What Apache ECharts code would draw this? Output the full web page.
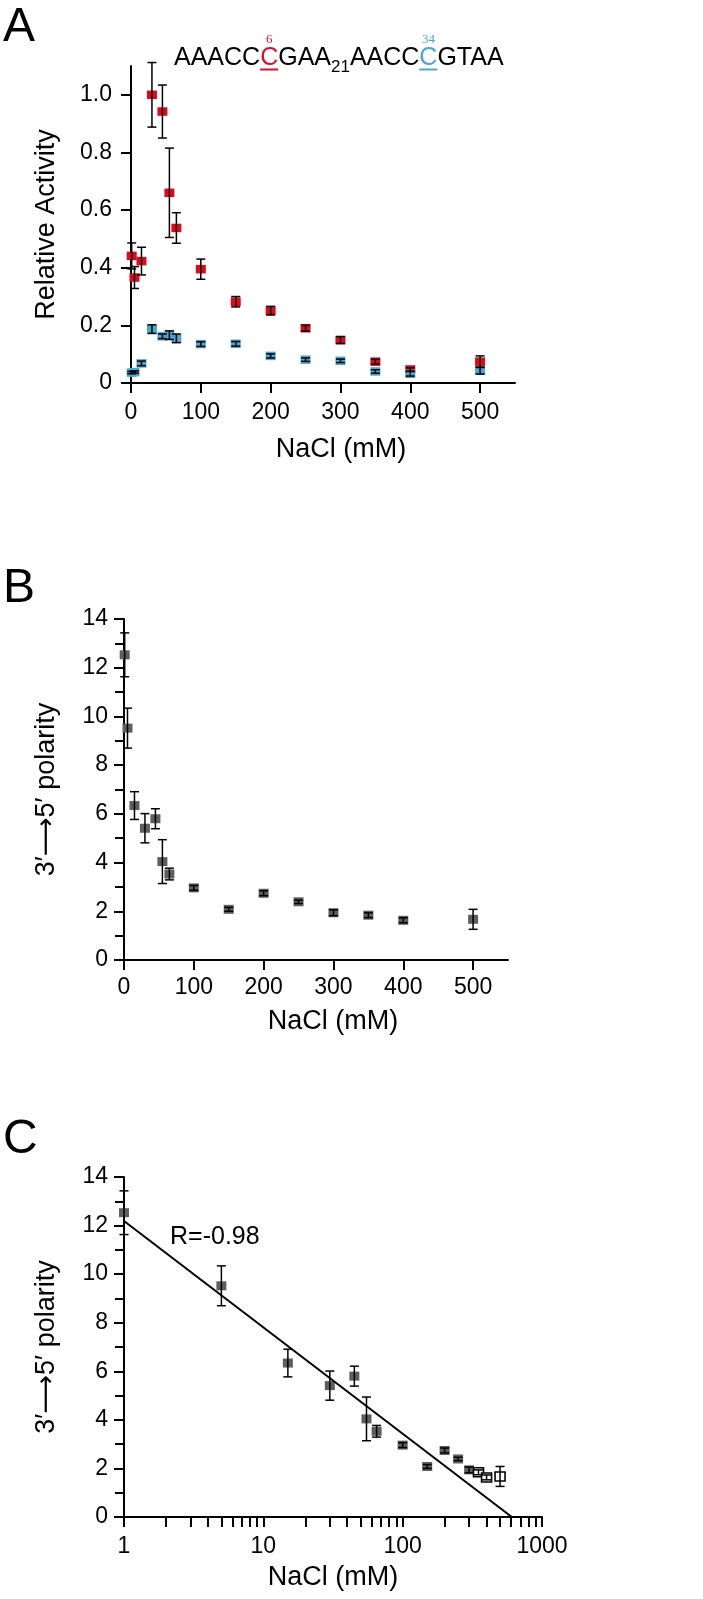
<!DOCTYPE html>
<html><head><meta charset="utf-8">
<script src="https://cdn.jsdelivr.net/npm/echarts@6/dist/echarts.min.js"></script>
<style>html,body{margin:0;padding:0;background:#fff}#c{width:703px;height:1599px}</style>
</head><body><div id="c"></div>
<script>
// ---------- data ----------
const nacl = [1, 5, 15, 30, 45, 55, 65, 100, 150, 200, 250, 300, 350, 400, 500];
const redActivity = [0.441, 0.366, 0.423, 1.0, 0.942, 0.66, 0.538, 0.395, 0.282, 0.251, 0.19, 0.149, 0.074, 0.047, 0.074];
const redErr      = [0.045, 0.038, 0.048, 0.112, 0.092, 0.155, 0.053, 0.035, 0.018, 0.015, 0.01, 0.012, 0.008, 0.006, 0.02];
const blueActivity = [0.036, 0.038, 0.068, 0.187, 0.162, 0.166, 0.155, 0.135, 0.136, 0.094, 0.081, 0.077, 0.04, 0.032, 0.043];
const blueErr      = [0.004, 0.004, 0.008, 0.015, 0.008, 0.015, 0.015, 0.008, 0.008, 0.007, 0.006, 0.006, 0.006, 0.008, 0.012];
const polarity    = [12.53, 9.52, 6.34, 5.41, 5.8, 4.04, 3.53, 2.96, 2.08, 2.74, 2.39, 1.94, 1.84, 1.63, 1.67];
const polarityErr = [0.9, 0.82, 0.57, 0.6, 0.41, 0.9, 0.24, 0.1, 0.08, 0.1, 0.07, 0.12, 0.1, 0.1, 0.41];
const openPointsC = [350, 400, 500];
const fitX = [1, 607];
const fitY = [12.19, 0];
const fitLabel = 'R=-0.98';

const xTicksLinear = [0, 100, 200, 300, 400, 500];
const yTicksA = [0, 0.2, 0.4, 0.6, 0.8, 1.0];
const xLabelsLog = [1, 10, 100, 1000];
const xTicksLog = [1, 2, 3, 4, 5, 6, 7, 8, 9, 10, 20, 30, 40, 50, 60, 70, 80, 90, 100, 200, 300, 400, 500, 600, 700, 800, 900, 1000];

const xName = 'NaCl (mM)';
const yNameA = 'Relative Activity';
const yNameBC = '3\u2032\u27F65\u2032 polarity';
const panelLetters = ['A', 'B', 'C'];
const seqParts = [
  { text: 'AAACC' },
  { text: 'C', mark: '6', tone: 'red' },
  { text: 'GAA' },
  { text: '21', sub: true },
  { text: 'AACC' },
  { text: 'C', mark: '34', tone: 'blue' },
  { text: 'GTAA' }
];

// ---------- style ----------
const FONT = '"Liberation Sans", Arial, Helvetica, "DejaVu Sans", sans-serif';
const SERIF = '"Liberation Serif", "Times New Roman", serif';
const RED = '#dc0a1e', BLUE = '#4ba6d0', GRAY = '#5e5e5e';
const SEQ_RED = '#d8102c', SEQ_BLUE = '#48a7d6';
const BLACK = '#000';

function pairs(xs, ys) { return xs.map((x, i) => [x, ys[i]]); }
function triples(xs, ys, es) { return xs.map((x, i) => [x, ys[i], es[i]]); }

function errRender(params, api) {
  const x = api.value(0), y = api.value(1), e = api.value(2);
  const p1 = api.coord([x, y + e]), p2 = api.coord([x, y - e]);
  const w = 4.5;
  const style = { stroke: BLACK, lineWidth: 1.5 };
  return { type: 'group', children: [
    { type: 'line', shape: { x1: p1[0], y1: p1[1], x2: p2[0], y2: p2[1] }, style },
    { type: 'line', shape: { x1: p1[0] - w, y1: p1[1], x2: p1[0] + w, y2: p1[1] }, style },
    { type: 'line', shape: { x1: p2[0] - w, y1: p2[1], x2: p2[0] + w, y2: p2[1] }, style }
  ]};
}

const axisLine = { show: true, onZero: false, lineStyle: { color: BLACK, width: 2 } };
const tickStyle = { color: BLACK, width: 2 };
const labelBase = { color: BLACK, fontSize: 23, fontFamily: FONT };
const nameStyle = { color: BLACK, fontSize: 27, fontFamily: FONT };

function errSeries(xi, xs, ys, es, z) {
  return { type: 'custom', xAxisIndex: xi, yAxisIndex: xi, renderItem: errRender,
    data: triples(xs, ys, es), encode: { x: 0, y: 1 }, z: z, silent: true, clip: false };
}

// ---------- sequence title layout ----------
const cv = document.createElement('canvas').getContext('2d');
function tw(t, size, fam) { cv.font = size + 'px ' + fam; return cv.measureText(t).width; }
const seqGraphic = [];
(function () {
  let x = 174;
  const MAIN = 25, SUB = 17;
  seqParts.forEach(p => {
    const size = p.sub ? SUB : MAIN;
    const w = tw(p.text, size, FONT);
    const col = p.tone === 'red' ? SEQ_RED : p.tone === 'blue' ? SEQ_BLUE : BLACK;
    seqGraphic.push({ type: 'text', x: x, y: p.sub ? 67.5 : 58,
      style: { text: p.text, fontSize: size, fontFamily: FONT, fill: col, align: 'left', verticalAlign: 'middle' } });
    if (p.mark) {
      seqGraphic.push({ type: 'rect', shape: { x: x, y: 68.5, width: w, height: 2 }, style: { fill: col } });
      seqGraphic.push({ type: 'text', x: x + w / 2, y: 39.5,
        style: { text: p.mark, fontSize: 13, fontFamily: SERIF, fill: col, align: 'center', verticalAlign: 'middle' } });
    }
    x += w;
  });
})();

const letterY = [28, 589, 1140];
const graphics = seqGraphic.concat(panelLetters.map((t, i) => ({
  type: 'text', x: 3, y: letterY[i],
  style: { text: t, fontSize: 48, fontFamily: FONT, fill: BLACK, align: 'left', verticalAlign: 'middle' }
}))).concat([{
  type: 'text', x: 170, y: 1237,
  style: { text: fitLabel, fontSize: 25, fontFamily: FONT, fill: BLACK, align: 'left', verticalAlign: 'middle' }
}]);

const filledC = nacl.map((x, i) => [x, polarity[i]]).filter(d => openPointsC.indexOf(d[0]) < 0);
const openC = nacl.map((x, i) => [x, polarity[i]]).filter(d => openPointsC.indexOf(d[0]) >= 0);

const option = {
  animation: false,
  backgroundColor: '#fff',
  grid: [
    { left: 131, top: 66, width: 384, height: 317 },
    { left: 124, top: 619, width: 384, height: 341 },
    { left: 124, top: 1177, width: 418, height: 340 }
  ],
  xAxis: [
    { gridIndex: 0, type: 'value', min: 0, max: 550, axisLine,
      axisTick: { show: true, length: 10, lineStyle: tickStyle, customValues: xTicksLinear },
      axisLabel: Object.assign({ customValues: xTicksLinear, margin: 18 }, labelBase),
      splitLine: { show: false },
      name: xName, nameLocation: 'middle', nameGap: 53,
      nameTextStyle: Object.assign({ padding: [0, 0, 0, 36] }, nameStyle) },
    { gridIndex: 1, type: 'value', min: 0, max: 550, axisLine,
      axisTick: { show: true, length: 10, lineStyle: tickStyle, customValues: xTicksLinear },
      axisLabel: Object.assign({ customValues: xTicksLinear, margin: 16 }, labelBase),
      splitLine: { show: false },
      name: xName, nameLocation: 'middle', nameGap: 48,
      nameTextStyle: Object.assign({ padding: [0, 0, 0, 34] }, nameStyle) },
    { gridIndex: 2, type: 'log', logBase: 10, min: 1, max: 1000, axisLine,
      axisTick: { show: true, length: 10, lineStyle: tickStyle, customValues: xTicksLog },
      axisLabel: Object.assign({ customValues: xLabelsLog, margin: 18, formatter: v => String(v) }, labelBase),
      splitLine: { show: false }, minorTick: { show: false },
      name: xName, nameLocation: 'middle', nameGap: 47, nameTextStyle: nameStyle }
  ],
  yAxis: [
    { gridIndex: 0, type: 'value', min: 0, max: 1.1, axisLine,
      axisTick: { show: true, length: 10, lineStyle: tickStyle, customValues: yTicksA },
      axisLabel: Object.assign({ customValues: yTicksA, margin: 19,
        formatter: v => (v === 0 ? '0' : v.toFixed(1)) }, labelBase),
      splitLine: { show: false },
      name: yNameA, nameLocation: 'middle', nameRotate: 90, nameGap: 71, nameTextStyle: nameStyle },
    { gridIndex: 1, type: 'value', min: 0, max: 14, interval: 2, axisLine,
      axisTick: { show: true, length: 10, lineStyle: tickStyle },
      minorTick: { show: true, splitNumber: 2, length: 9, lineStyle: tickStyle },
      axisLabel: Object.assign({ margin: 16 }, labelBase),
      splitLine: { show: false },
      name: yNameBC, nameLocation: 'middle', nameRotate: 90, nameGap: 64, nameTextStyle: nameStyle },
    { gridIndex: 2, type: 'value', min: 0, max: 14, interval: 2, axisLine,
      axisTick: { show: true, length: 10, lineStyle: tickStyle },
      minorTick: { show: true, splitNumber: 2, length: 9, lineStyle: tickStyle },
      axisLabel: Object.assign({ margin: 16 }, labelBase),
      splitLine: { show: false },
      name: yNameBC, nameLocation: 'middle', nameRotate: 90, nameGap: 64, nameTextStyle: nameStyle }
  ],
  series: [
    { type: 'scatter', xAxisIndex: 0, yAxisIndex: 0, symbol: 'rect', symbolSize: [10, 8.5],
      itemStyle: { color: RED, opacity: 1 }, data: pairs(nacl, redActivity), z: 2, silent: true },
    { type: 'scatter', xAxisIndex: 0, yAxisIndex: 0, symbol: 'rect', symbolSize: [10, 8.5],
      itemStyle: { color: BLUE, opacity: 1 }, data: pairs(nacl, blueActivity), z: 3, silent: true },
    errSeries(0, nacl, redActivity, redErr, 4),
    errSeries(0, nacl, blueActivity, blueErr, 4),

    { type: 'scatter', xAxisIndex: 1, yAxisIndex: 1, symbol: 'rect', symbolSize: [10, 9],
      itemStyle: { color: GRAY, opacity: 1 }, data: pairs(nacl, polarity), z: 2, silent: true },
    errSeries(1, nacl, polarity, polarityErr, 4),

    { type: 'scatter', xAxisIndex: 2, yAxisIndex: 2, symbol: 'rect', symbolSize: [10, 9],
      itemStyle: { color: GRAY, opacity: 1 }, data: filledC, z: 2, silent: true },
    { type: 'scatter', xAxisIndex: 2, yAxisIndex: 2, symbol: 'rect', symbolSize: [10, 9],
      itemStyle: { color: '#fff', borderColor: BLACK, borderWidth: 1.5, opacity: 1 }, data: openC, z: 2, silent: true },
    { type: 'line', xAxisIndex: 2, yAxisIndex: 2, data: pairs(fitX, fitY), symbol: 'none',
      lineStyle: { color: BLACK, width: 2 }, z: 3, silent: true },
    errSeries(2, nacl, polarity, polarityErr, 4)
  ],
  graphic: { elements: graphics }
};

const chart = echarts.init(document.getElementById('c'), null, { renderer: 'canvas' });
chart.setOption(option);
</script>
</body></html>
